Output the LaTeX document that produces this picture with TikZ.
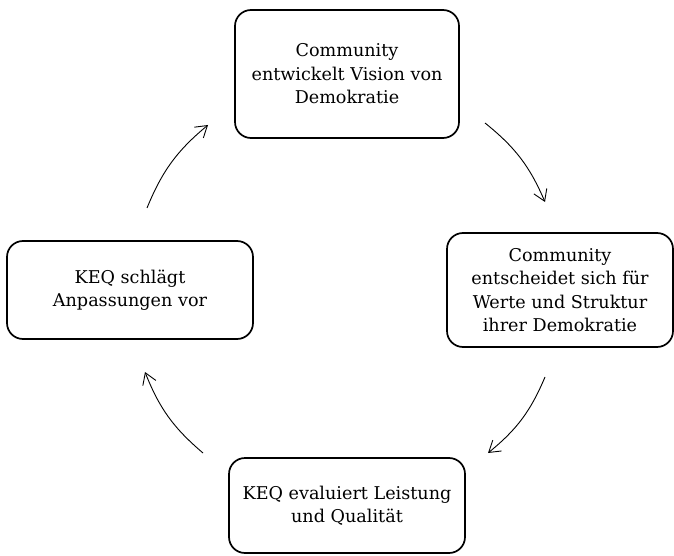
\documentclass[tikz,border=0pt]{standalone}
\usepackage{fontspec}
\setmainfont{DejaVu Serif}
\usetikzlibrary{arrows.meta}

\begin{document}
\begin{tikzpicture}[x=1pt,y=-1pt,line width=.9pt,
  phase/.style={draw,line width=1.7pt,rounded corners=16pt,align=center,
    inner sep=0pt,font=\fontsize{17.6}{23.5}\selectfont},
  cyc/.style={-{Straight Barb[length=11pt,width=14pt]},bend left=14}]
\useasboundingbox (0,0) rectangle (674,556);
\node[phase,minimum width=224,minimum height=128] (vision) at (347,74)
  {Community\\entwickelt Vision von\\Demokratie};
\node[phase,minimum width=226,minimum height=114] (werte) at (560,290)
  {Community\\entscheidet sich für\\Werte und Struktur\\ihrer Demokratie};
\node[phase,minimum width=236,minimum height=95] (eval) at (347,505.5)
  {KEQ evaluiert Leistung\\und Qualität};
\node[phase,minimum width=246,minimum height=98] (anpass) at (130,290)
  {KEQ schlägt\\Anpassungen vor};
\coordinate (a1) at (147,208); \coordinate (b1) at (208,125);
\coordinate (a2) at (485,123); \coordinate (b2) at (545,202);
\coordinate (a3) at (545,377); \coordinate (b3) at (488,453);
\coordinate (a4) at (203,453); \coordinate (b4) at (145,372);
\draw[cyc] (a1) to (b1);
\draw[cyc] (a2) to (b2);
\draw[cyc] (a3) to (b3);
\draw[cyc] (a4) to (b4);
\end{tikzpicture}
\end{document}
